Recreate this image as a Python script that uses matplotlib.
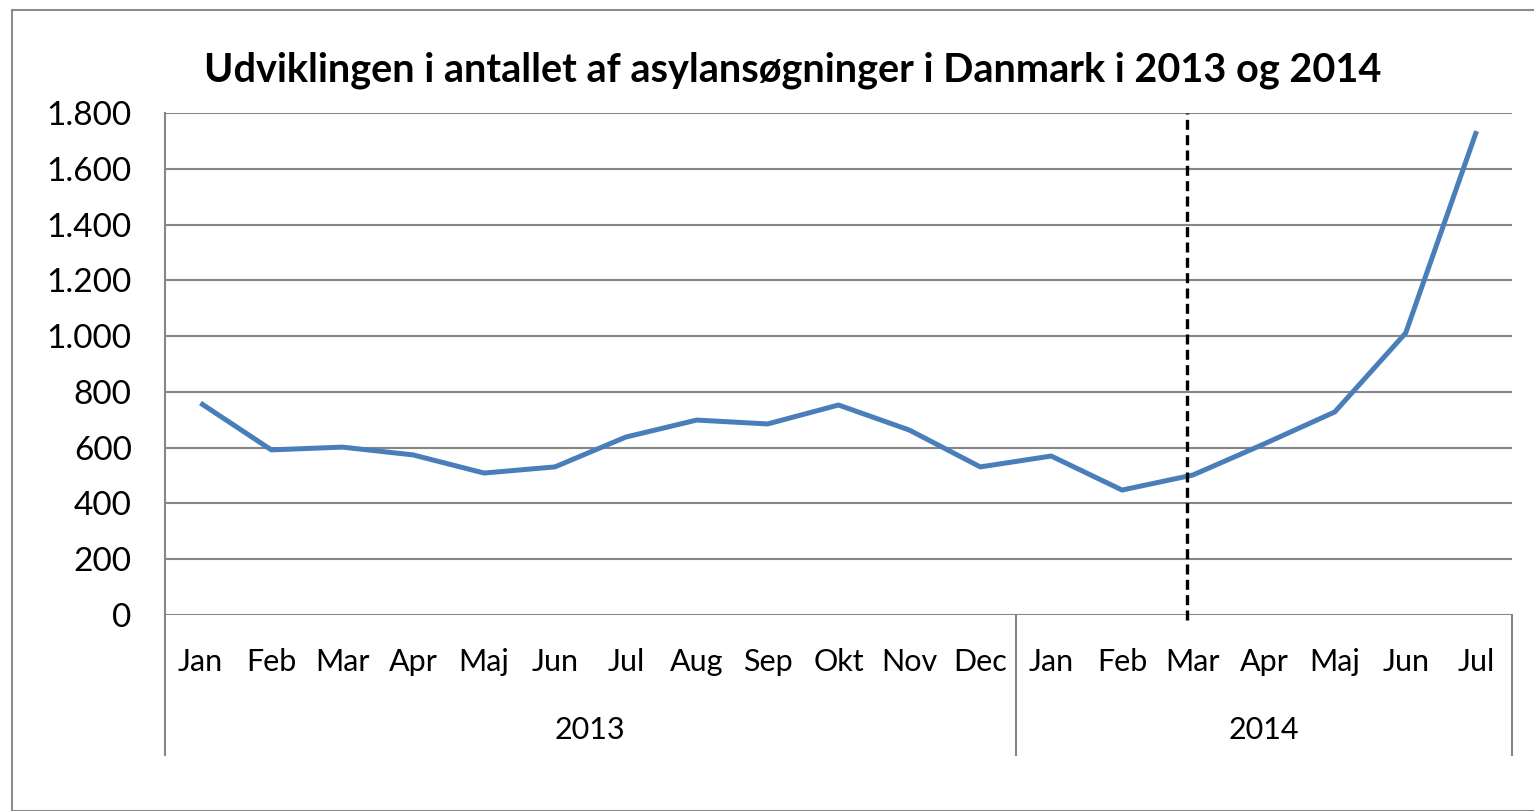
import matplotlib.pyplot as plt
import matplotlib.transforms as mtransforms
from matplotlib.patches import Rectangle
from matplotlib.ticker import FuncFormatter

# data (asylum applications per month)
months = ["Jan", "Feb", "Mar", "Apr", "Maj", "Jun", "Jul", "Aug", "Sep", "Okt", "Nov", "Dec",
          "Jan", "Feb", "Mar", "Apr", "Maj", "Jun", "Jul"]
years = ["2013", "2014"]
year_counts = [12, 7]
values = [760, 592, 602, 574, 509, 531, 638, 699, 685, 753, 663, 531,
          570, 448, 502, 613, 728, 1011, 1735]
marker_month = 14   # dashed line at Mar 2014

plt.rcParams['font.family'] = ['Lato', 'DejaVu Sans']

fig = plt.figure(figsize=(15.34, 8.11), dpi=100)
fig.patches.append(Rectangle((12 / 1534, 0), 1.0, 1 - 10 / 811, transform=fig.transFigure,
                             fill=False, edgecolor="#8c8c8c", linewidth=1.5))

ax = fig.add_axes([165 / 1534, 1 - 615 / 811, (1512 - 165) / 1534, (615 - 113) / 811])
x = list(range(len(values)))
ax.plot(x, values, color="#4A7EBB", linewidth=3.6, solid_joinstyle="round",
        solid_capstyle="butt", zorder=3)
ax.axvline(marker_month - 0.08, ymin=-0.01, ymax=1, color="black", linestyle=(0, (3, 1.6)),
           linewidth=2.4, clip_on=False, zorder=4)

ax.set_xlim(-0.5, len(values) - 0.5)
ax.set_ylim(0, 1800)
ax.set_yticks(range(0, 1801, 200))
ax.yaxis.set_major_formatter(FuncFormatter(lambda v, p: f"{int(v):,}".replace(",", ".")))
ax.tick_params(axis="y", length=0, pad=24, labelsize=24)
ax.grid(axis="y", color="#868686", linewidth=1.5)
ax.set_axisbelow(True)
for s in ["top", "right", "bottom"]:
    ax.spines[s].set_visible(False)
ax.spines["left"].set_color("#868686")
ax.spines["left"].set_linewidth(1.5)

# two-level category axis
ax.set_xticks([])
trans = mtransforms.blended_transform_factory(ax.transData, ax.transAxes)
for i, m in enumerate(months):
    ax.text(i, -0.094, m, transform=trans, ha="center", va="center", fontsize=22)
start = -0.5
for yr, n in zip(years, year_counts):
    ax.text(start + n / 2, -0.23, yr, transform=trans, ha="center", va="center", fontsize=22)
    start += n
seps = [-0.5]
for n in year_counts:
    seps.append(seps[-1] + n)
for s in seps:
    ax.plot([s, s], [0, -0.278], transform=trans, color="#868686", linewidth=1.5, clip_on=False)

fig.text(0.517, 1 - 70 / 811, "Udviklingen i antallet af asylansøgninger i Danmark i 2013 og 2014",
         ha="center", va="center", fontsize=28.5, fontweight="bold")

fig.savefig("out.png", dpi=100)
